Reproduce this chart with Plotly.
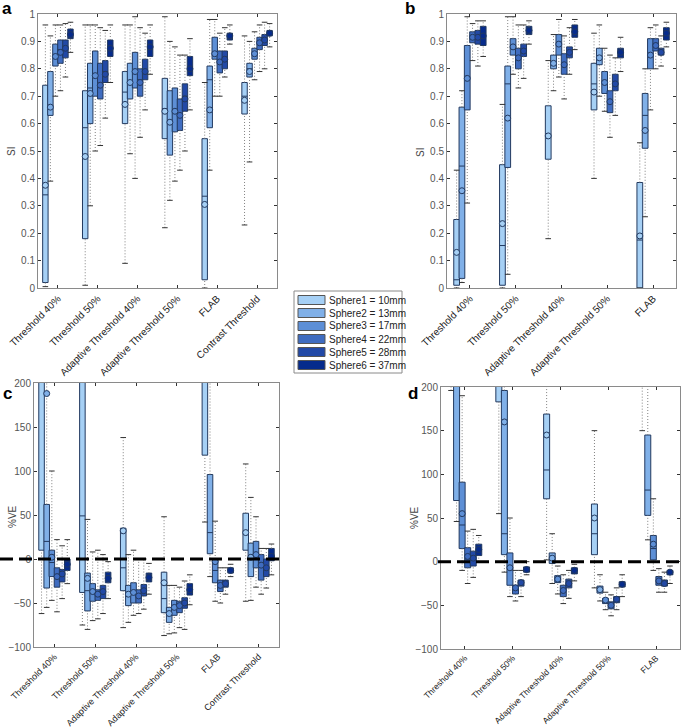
import plotly.graph_objects as go

W, H = 685, 727

METHODS_AC = ['Threshold 40%', 'Threshold 50%', 'Adaptive Threshold 40%',
              'Adaptive Threshold 50%', 'FLAB', 'Contrast Threshold']
METHODS_BD = ['Threshold 40%', 'Threshold 50%', 'Adaptive Threshold 40%',
              'Adaptive Threshold 50%', 'FLAB']
SPHERES = ['Sphere1 = 10mm', 'Sphere2 = 13mm', 'Sphere3 = 17mm',
           'Sphere4 = 22mm', 'Sphere5 = 28mm', 'Sphere6 = 37mm']
COLORS = ['#a6d0f5', '#80b0e8', '#5d8fd6', '#3f6cc0', '#2249a6', '#062b8c']

# ---------------- panel a (SI) : rows = methods, cols = spheres ----------------
A_Q1 = [[0.02, 0.63, 0.81, 0.82, 0.84, 0.91],
        [0.18, 0.60, 0.70, 0.69, 0.75, 0.845],
        [0.60, 0.69, 0.73, 0.70, 0.76, 0.845],
        [0.545, 0.485, 0.57, 0.575, 0.645, 0.775],
        [0.03, 0.585, 0.835, 0.785, 0.80, 0.905],
        [0.635, 0.77, 0.835, 0.87, 0.885, 0.92]]
A_MED = [[0.34, 0.66, 0.85, 0.87, 0.88, 0.93],
         [0.585, 0.73, 0.78, 0.74, 0.79, 0.87],
         [0.715, 0.75, 0.79, 0.76, 0.79, 0.88],
         [0.655, 0.60, 0.64, 0.635, 0.70, 0.80],
         [0.335, 0.76, 0.86, 0.83, 0.84, 0.92],
         [0.70, 0.80, 0.855, 0.90, 0.905, 0.935]]
A_Q3 = [[0.74, 0.79, 0.89, 0.905, 0.905, 0.945],
        [0.72, 0.82, 0.865, 0.82, 0.83, 0.905],
        [0.79, 0.82, 0.86, 0.80, 0.835, 0.905],
        [0.765, 0.72, 0.73, 0.69, 0.745, 0.845],
        [0.545, 0.81, 0.915, 0.865, 0.865, 0.93],
        [0.75, 0.82, 0.875, 0.915, 0.925, 0.94]]
A_MEAN = [[0.375, 0.66, 0.845, 0.86, 0.875, 0.925],
          [0.48, 0.71, 0.775, 0.74, 0.78, 0.875],
          [0.67, 0.75, 0.79, 0.75, 0.79, 0.88],
          [0.645, 0.605, 0.645, 0.63, 0.69, 0.80],
          [0.305, 0.65, 0.855, 0.825, 0.835, 0.92],
          [0.685, 0.79, 0.855, 0.895, 0.905, 0.93]]
A_LO = [[0.005, 0.39, 0.70, 0.72, 0.77, 0.86],
        [0.01, 0.30, 0.50, 0.52, 0.62, 0.75],
        [0.09, 0.49, 0.40, 0.55, 0.65, 0.78],
        [0.22, 0.32, 0.39, 0.43, 0.50, 0.65],
        [0.0, 0.43, 0.70, 0.70, 0.77, 0.89],
        [0.23, 0.46, 0.76, 0.79, 0.80, 0.88]]
A_HI = [[0.96, 0.92, 0.96, 0.96, 0.965, 0.97],
        [0.96, 0.96, 0.96, 0.95, 0.94, 0.96],
        [0.96, 0.96, 0.99, 0.95, 0.93, 0.96],
        [0.99, 0.90, 0.88, 0.85, 0.85, 0.91],
        [0.75, 0.98, 0.98, 0.93, 0.95, 0.96],
        [0.92, 0.90, 0.935, 0.96, 0.97, 0.965]]

# ---------------- panel b (SI) ----------------
B_Q1 = [[0.01, 0.035, 0.65, 0.895, 0.89, 0.885],
        [0.01, 0.44, 0.85, 0.80, 0.845, 0.925],
        [0.47, 0.80, 0.85, 0.78, 0.84, 0.915],
        [0.65, 0.815, 0.71, 0.64, 0.72, 0.84],
        [0.0, 0.51, 0.80, 0.865, 0.85, 0.905]]
B_MED = [[0.03, 0.445, 0.77, 0.92, 0.92, 0.92],
         [0.155, 0.745, 0.88, 0.845, 0.87, 0.94],
         [0.555, 0.825, 0.89, 0.815, 0.86, 0.935],
         [0.745, 0.845, 0.755, 0.675, 0.745, 0.86],
         [0.175, 0.63, 0.855, 0.89, 0.86, 0.93]]
B_Q3 = [[0.25, 0.66, 0.885, 0.935, 0.94, 0.955],
        [0.45, 0.81, 0.91, 0.875, 0.89, 0.955],
        [0.665, 0.85, 0.925, 0.855, 0.88, 0.96],
        [0.82, 0.875, 0.79, 0.72, 0.78, 0.875],
        [0.385, 0.71, 0.91, 0.91, 0.875, 0.95]]
B_MEAN = [[0.13, 0.355, 0.765, 0.915, 0.915, 0.92],
          [0.235, 0.62, 0.88, 0.84, 0.865, 0.94],
          [0.555, 0.82, 0.89, 0.815, 0.86, 0.935],
          [0.715, 0.84, 0.75, 0.68, 0.745, 0.86],
          [0.19, 0.575, 0.85, 0.885, 0.86, 0.93]]
B_LO = [[0.0, 0.02, 0.31, 0.83, 0.81, 0.845],
        [0.0, 0.05, 0.78, 0.73, 0.765, 0.89],
        [0.18, 0.72, 0.77, 0.69, 0.78, 0.87],
        [0.40, 0.70, 0.645, 0.55, 0.63, 0.79],
        [0.0, 0.26, 0.65, 0.80, 0.81, 0.88]]
B_HI = [[0.43, 0.72, 0.99, 0.965, 0.975, 0.975],
        [0.67, 0.99, 0.99, 0.96, 0.96, 0.975],
        [0.83, 0.925, 0.98, 0.92, 0.95, 0.98],
        [0.93, 0.96, 0.875, 0.85, 0.84, 0.915],
        [0.53, 0.80, 0.95, 0.96, 0.92, 0.97]]

# ---------------- panel c (%VE) ----------------
C_Q1 = [[10, -33, -20, -32, -26, -13],
        [-38, -59, -48, -47, -45, -27],
        [-36, -53, -50, -50, -42, -26],
        [-61, -72, -64, -61, -56, -41],
        [118, 6, -27, -37, -32, -16],
        [10, -20, -10, -24, -20, -2]]
C_MED = [[230, 20, -4, -22, -18, -6],
         [49, -36, -38, -42, -38, -22],
         [-10, -42, -40, -42, -36, -21],
         [-45, -62, -55, -54, -50, -35],
         [250, 30, -13, -30, -28, -13],
         [30, 2, 6, -8, -10, 3]]
C_Q3 = [[300, 62, 10, -10, -12, 0],
        [300, -16, -28, -35, -30, -15],
        [35, -30, -27, -35, -29, -16],
        [-15, -55, -47, -48, -44, -28],
        [400, 96, 0, -24, -24, -10],
        [52, 18, 20, 5, 0, 12]]
C_MEAN = [[350, 188, 2, -20, -17, -6],
          [260, -22, -37, -40, -37, -22],
          [32, -40, -38, -42, -36, -21],
          [-27, -62, -55, -53, -50, -35],
          [300, 210, -3, -30, -28, -13],
          [30, 2, 5, -7, -10, 3]]
C_LO = [[-62, -55, -47, -60, -45, -28],
        [-75, -80, -70, -68, -62, -45],
        [-78, -72, -64, -62, -57, -40],
        [-87, -85, -84, -78, -80, -52],
        [42, -20, -48, -50, -40, -20],
        [-48, -47, -32, -40, -33, -18]]
C_HI = [[600, 400, 100, 22, 15, 22],
        [700, 45, 8, 10, 5, -3],
        [138, 5, 10, 0, 0, -5],
        [48, -30, -30, -32, -25, -18],
        [800, 400, 43, -10, -10, -6],
        [108, 70, 48, 12, 12, 17]]

# ---------------- panel d (%VE) ----------------
D_Q1 = [[280, 70, 15, -7, -5, 7],
        [183, 8, -27, -37, -28, -12],
        [72, -2, -24, -40, -30, -14],
        [8, -36, -48, -54, -47, -29],
        [220, 53, 2, -27, -28, -15]]
D_MED = [[320, 260, 42, 3, 2, 13],
         [300, 32, -6, -32, -25, -9],
         [105, 3, -20, -33, -26, -10],
         [32, -32, -45, -50, -43, -26],
         [300, 82, 15, -22, -25, -12]]
D_Q3 = [[400, 350, 91, 16, 12, 20],
        [400, 196, 10, -27, -21, -6],
        [169, 10, -16, -27, -20, -7],
        [66, -28, -42, -46, -40, -23],
        [500, 145, 30, -17, -21, -10]]
D_MEAN = [[330, 300, 55, 6, 4, 14],
          [350, 160, -7, -30, -24, -9],
          [145, 4, -20, -33, -25, -10],
          [50, -32, -44, -50, -43, -26],
          [350, 230, 20, -22, -25, -12]]
D_LO = [[196, 46, -10, -25, -18, 0],
        [55, -12, -40, -45, -40, -15],
        [2, -25, -37, -48, -42, -22],
        [-30, -45, -55, -62, -55, -40],
        [150, 25, -10, -35, -35, -25]]
D_HI = [[700, 700, 190, 35, 37, 30],
        [800, 600, 50, -10, -10, 0],
        [400, 32, -5, -15, -10, -3],
        [150, -15, -35, -38, -30, -15],
        [800, 400, 72, -8, -12, -5]]

EDGE = '#22395f'
FONT = 'Liberation Sans, Arial, sans-serif'


def px(x):
    return x / W


def py(y):
    return 1 - y / H


fig = go.Figure()

panels = [
    dict(xa='x', ya='y', methods=METHODS_AC, step=0.126,
         st=(A_Q1, A_MED, A_Q3, A_MEAN, A_LO, A_HI)),
    dict(xa='x2', ya='y2', methods=METHODS_BD, step=0.116,
         st=(B_Q1, B_MED, B_Q3, B_MEAN, B_LO, B_HI)),
    dict(xa='x3', ya='y3', methods=METHODS_AC, step=0.126,
         st=(C_Q1, C_MED, C_Q3, C_MEAN, C_LO, C_HI)),
    dict(xa='x4', ya='y4', methods=METHODS_BD, step=0.116,
         st=(D_Q1, D_MED, D_Q3, D_MEAN, D_LO, D_HI)),
]

for p in panels:
    q1, med, q3, mean, lo, hi = p['st']
    n = len(p['methods'])
    step = p['step']
    for j in range(6):
        pos = [i + 1 + (j - 2.5) * step for i in range(n)]
        cq1 = [q1[i][j] for i in range(n)]
        cmed = [med[i][j] for i in range(n)]
        cq3 = [q3[i][j] for i in range(n)]
        cmean = [mean[i][j] for i in range(n)]
        clo = [lo[i][j] for i in range(n)]
        chi = [hi[i][j] for i in range(n)]
        # dotted whiskers
        wx, wy = [], []
        for i in range(n):
            wx += [pos[i], pos[i], None, pos[i], pos[i], None]
            wy += [cq3[i], chi[i], None, clo[i], cq1[i], None]
        fig.add_trace(go.Scatter(
            x=wx, y=wy, mode='lines', xaxis=p['xa'], yaxis=p['ya'],
            line=dict(color='#808080', width=1, dash='1px,2px'),
            showlegend=False, hoverinfo='skip'))
        fig.add_trace(go.Scatter(
            x=pos + pos, y=clo + chi, mode='markers', xaxis=p['xa'], yaxis=p['ya'],
            marker=dict(symbol='line-ew', size=4, line=dict(width=1, color='#333333')),
            showlegend=False, hoverinfo='skip'))
        fig.add_trace(go.Box(
            x=pos, q1=cq1, median=cmed, q3=cq3, lowerfence=cq1, upperfence=cq3,
            width=step * 1.08, fillcolor=COLORS[j], line=dict(color=EDGE, width=1),
            whiskerwidth=0, boxpoints=False, name=SPHERES[j],
            xaxis=p['xa'], yaxis=p['ya'], showlegend=False))
        fig.add_trace(go.Scatter(
            x=pos, y=cmean, mode='markers', xaxis=p['xa'], yaxis=p['ya'],
            marker=dict(symbol='circle', size=6, color=COLORS[j],
                        line=dict(color=EDGE, width=1)),
            showlegend=False, hoverinfo='skip'))


def xax(domain, methods, anchor, fsize):
    n = len(methods)
    return dict(domain=domain, anchor=anchor, range=[0.5, n + 0.5], automargin=False,
                tickmode='array', tickvals=list(range(1, n + 1)), ticktext=methods,
                tickangle=-45, ticks='inside', ticklen=3, tickcolor='#333333',
                showline=True, linecolor='#8a8a8a', linewidth=1, mirror='ticks',
                showgrid=False, zeroline=False,
                tickfont=dict(family=FONT, size=fsize, color='#222222'))


def yax(domain, rng, dtick, anchor):
    return dict(domain=domain, anchor=anchor, range=rng, dtick=dtick, automargin=False,
                ticks='inside', ticklen=3, tickcolor='#333333',
                showline=True, linecolor='#8a8a8a', linewidth=1, mirror='ticks',
                showgrid=False, zeroline=False,
                tickfont=dict(family=FONT, size=10, color='#555555'))


dom = {
    'a': ([px(38), px(277)], [py(288), py(14)]),
    'b': ([px(447), px(676)], [py(288), py(14)]),
    'c': ([px(34), px(279)], [py(647), py(383)]),
    'd': ([px(441), px(680)], [py(649), py(387)]),
}

fig.update_layout(
    width=W, height=H, autosize=False,
    margin=dict(l=0, r=0, t=0, b=0, pad=0, autoexpand=False),
    paper_bgcolor='white', plot_bgcolor='white',
    showlegend=False,
    xaxis=xax(dom['a'][0], METHODS_AC, 'y', 10),
    yaxis=yax(dom['a'][1], [0, 1], 0.1, 'x'),
    xaxis2=xax(dom['b'][0], METHODS_BD, 'y2', 10),
    yaxis2=yax(dom['b'][1], [0, 1], 0.1, 'x2'),
    xaxis3=xax(dom['c'][0], METHODS_AC, 'y3', 9),
    yaxis3=yax(dom['c'][1], [-100, 200], 50, 'x3'),
    xaxis4=xax(dom['d'][0], METHODS_BD, 'y4', 8.5),
    yaxis4=yax(dom['d'][1], [-100, 200], 50, 'x4'),
)

shapes = [
    dict(type='line', xref='paper', yref='y3', x0=0, x1=px(282), y0=0, y1=0,
         line=dict(color='black', width=3, dash='13px,6px'), layer='above'),
    dict(type='line', xref='paper', yref='y4', x0=px(438), x1=1, y0=0, y1=0,
         line=dict(color='black', width=3, dash='13px,6px'), layer='above'),
    dict(type='rect', xref='paper', yref='paper', x0=px(294), x1=px(402),
         y0=py(373), y1=py(291), line=dict(color='#8a8a8a', width=1),
         fillcolor='white'),
]
annotations = []
for k, (nm, col) in enumerate(zip(SPHERES, COLORS)):
    yc = 300 + 13 * k
    shapes.append(dict(type='rect', xref='paper', yref='paper',
                       x0=px(298), x1=px(325), y0=py(yc + 4.5), y1=py(yc - 4.5),
                       fillcolor=col, line=dict(color='#555555', width=1)))
    annotations.append(dict(x=px(327), y=py(yc), xref='paper', yref='paper',
                            text=nm, showarrow=False, xanchor='left', yanchor='middle',
                            font=dict(family=FONT, size=10, color='#222222')))

for lab, x, y in [('a', 7, 9), ('b', 410, 9), ('c', 7, 393), ('d', 413, 393)]:
    annotations.append(dict(x=px(x), y=py(y), xref='paper', yref='paper', text='<b>%s</b>' % lab,
                            showarrow=False, xanchor='center', yanchor='middle',
                            font=dict(family=FONT, size=17, color='black')))

for lab, x, y in [('SI', 12, 152), ('SI', 420, 153), ('%VE', 12, 517), ('%VE', 414, 518)]:
    annotations.append(dict(x=px(x), y=py(y), xref='paper', yref='paper', text=lab,
                            showarrow=False, textangle=-90, xanchor='center', yanchor='middle',
                            font=dict(family=FONT, size=10, color='#444444')))

fig.update_layout(shapes=shapes, annotations=annotations)

fig.write_html('out.html', config={'displayModeBar': False},
               post_script="document.body.style.margin='0';document.body.style.overflow='hidden';")
